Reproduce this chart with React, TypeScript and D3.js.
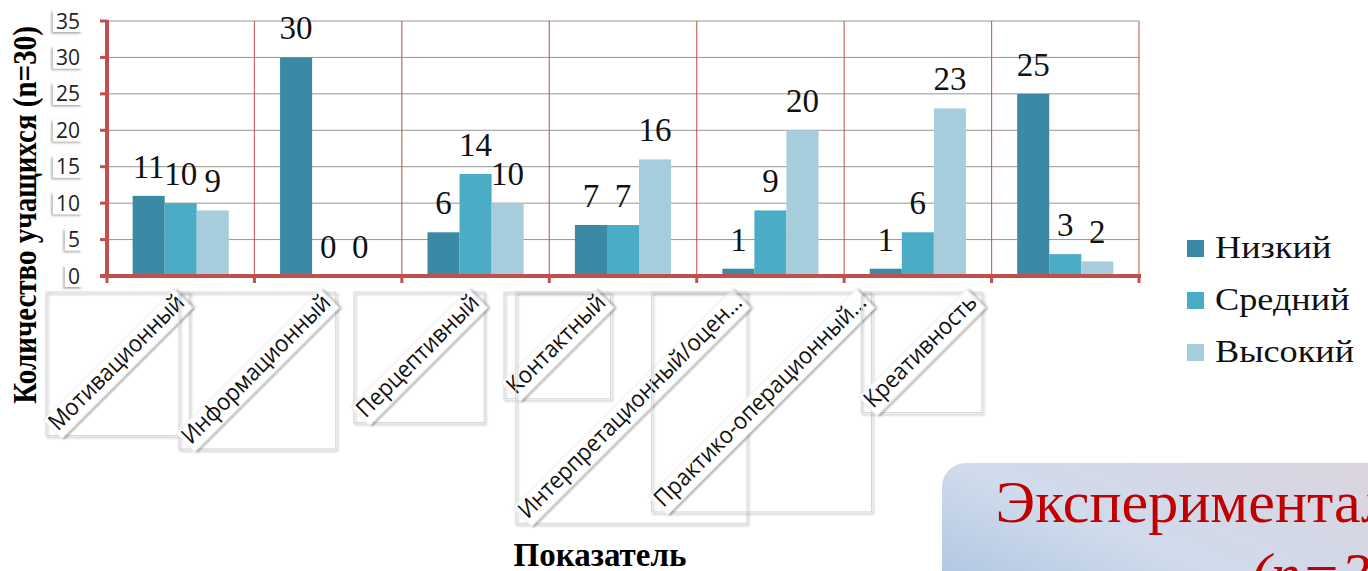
import React, { useEffect, useRef } from 'react';
import * as d3 from 'd3';

// ---------- data ----------
const categories = [
  'Мотивационный',
  'Информационный',
  'Перцептивный',
  'Контактный',
  'Интерпретационный/оцен…',
  'Практико-операционный…',
  'Креативность',
];
const seriesNames = ['Низкий', 'Средний', 'Высокий'];
const lowValues = [11, 30, 6, 7, 1, 1, 25];
const midValues = [10, 0, 14, 7, 9, 6, 3];
const highValues = [9, 0, 10, 16, 20, 23, 2];
const yTicks = [0, 5, 10, 15, 20, 25, 30, 35];
const yTitle = 'Количество учащихся (n=30)';
const xTitle = 'Показатель';
const boxLine1 = 'Экспериментальная группа';
const boxLine2 = '(n=30)';

// ---------- style / layout ----------
const seriesColors = ['#3a8aa5', '#4bacc6', '#a6cddc'];
const labelShiftX = [5, 4, 5, -16, -27, -50, -87];
const axisRed = '#c0504d';
const SERIF = '"Liberation Serif", "Times New Roman", serif';
const SANS = '"Open Sans", "Liberation Sans", sans-serif';

export default function App() {
  const ref = useRef<SVGSVGElement>(null);

  useEffect(() => {
    const svg = d3.select(ref.current);
    svg.selectAll('*').remove();

    const left = 107, right = 1139, top = 21, bottom = 276;

    const defs = svg.append('defs');
    const sh = defs.append('filter').attr('id', 'sh')
      .attr('x', '-10%').attr('y', '-10%').attr('width', '130%').attr('height', '130%');
    sh.append('feDropShadow').attr('dx', 1.5).attr('dy', 2).attr('stdDeviation', 1.2)
      .attr('flood-color', '#000').attr('flood-opacity', 0.35);
    const sh2 = defs.append('filter').attr('id', 'sh2')
      .attr('x', '-30%').attr('y', '-30%').attr('width', '160%').attr('height', '160%');
    sh2.append('feDropShadow').attr('dx', -1.5).attr('dy', 1.5).attr('stdDeviation', 1)
      .attr('flood-color', '#000').attr('flood-opacity', 0.35);
    const grad = defs.append('linearGradient').attr('id', 'boxg')
      .attr('x1', '0').attr('y1', '1').attr('x2', '1').attr('y2', '0');
    grad.append('stop').attr('offset', '0').attr('stop-color', '#95b4d8');
    grad.append('stop').attr('offset', '0.5').attr('stop-color', '#cfdbec');
    grad.append('stop').attr('offset', '1').attr('stop-color', '#ddd3dc');

    const x = d3.scaleBand<string>().domain(categories).range([left, right]).padding(0);
    const x1 = d3.scaleBand<string>().domain(seriesNames).range([0, x.bandwidth()])
      .paddingInner(0).paddingOuter(0.8);
    const y = d3.scaleLinear().domain([0, 35]).range([bottom, top]);
    const values = [lowValues, midValues, highValues];

    // gridlines
    svg.append('g').selectAll('line').data(yTicks.filter(t => t > 0)).join('line')
      .attr('x1', left).attr('x2', right)
      .attr('y1', d => y(d)).attr('y2', d => y(d))
      .attr('stroke', '#9a9494').attr('stroke-width', 1);
    // vertical dividers
    const divs = categories.map(c => x(c)! + x.bandwidth());
    svg.append('g').selectAll('line').data(divs).join('line')
      .attr('x1', d => d).attr('x2', d => d).attr('y1', top).attr('y2', bottom)
      .attr('stroke', axisRed).attr('stroke-width', 1.2).attr('opacity', 0.85);

    // bars
    const g = svg.append('g');
    categories.forEach((c, i) => {
      seriesNames.forEach((s, j) => {
        const v = values[j][i];
        g.append('rect')
          .attr('x', x(c)! + x1(s)!)
          .attr('y', y(v))
          .attr('width', x1.bandwidth())
          .attr('height', y(0) - y(v))
          .attr('fill', seriesColors[j]);
      });
    });

    // axes
    const ax = svg.append('g');
    ax.append('line').attr('x1', left).attr('x2', left).attr('y1', top - 1).attr('y2', bottom + 2)
      .attr('stroke', axisRed).attr('stroke-width', 4);
    ax.selectAll('line.yt').data(yTicks).join('line').attr('class', 'yt')
      .attr('x1', left - 7).attr('x2', left).attr('y1', d => y(d)).attr('y2', d => y(d))
      .attr('stroke', axisRed).attr('stroke-width', 3);
    ax.append('line').attr('x1', left - 7).attr('x2', right + 2).attr('y1', bottom).attr('y2', bottom)
      .attr('stroke', axisRed).attr('stroke-width', 4);
    ax.selectAll('line.xt').data([left, ...divs]).join('line').attr('class', 'xt')
      .attr('x1', d => d).attr('x2', d => d).attr('y1', bottom).attr('y2', bottom + 7)
      .attr('stroke', axisRed).attr('stroke-width', 3);

    // y tick labels in boxes
    yTicks.forEach(t => {
      const tg = svg.append('g');
      const txt = tg.append('text').attr('x', 80).attr('y', y(t)).attr('dy', '0.36em')
        .attr('text-anchor', 'end').attr('font-family', SANS).attr('font-size', 21)
        .attr('fill', '#222').text(String(t));
      const w = (txt.node() as SVGTextElement).getComputedTextLength();
      tg.insert('rect', 'text').attr('x', 80 - w - 3).attr('y', y(t) - 11)
        .attr('width', w + 5).attr('height', 22).attr('fill', '#fff').attr('filter', 'url(#sh2)');
    });

    // data labels
    categories.forEach((c, i) => {
      seriesNames.forEach((s, j) => {
        const v = values[j][i];
        svg.append('text')
          .attr('x', x(c)! + x1(s)! + x1.bandwidth() / 2)
          .attr('y', y(v) - 18)
          .attr('text-anchor', 'middle')
          .attr('font-family', SERIF).attr('font-size', 33).attr('fill', '#111')
          .text(String(v));
      });
    });

    // category labels with boxes
    const lg = svg.append('g');
    const fs = 23.5;
    const sx = 0.93;
    const asc = fs * 0.72, desc = fs * 0.22;
    const c45 = Math.SQRT1_2;
    categories.forEach((c, i) => {
      const ex = x(c)! + x.bandwidth() / 2 + labelShiftX[i];
      const ey = 304;
      const grp = lg.append('g');
      const tr = `translate(${ex},${ey}) rotate(-45) scale(${sx},1)`;
      const t = grp.append('text').attr('font-family', SANS).attr('font-size', fs)
        .attr('text-anchor', 'end').attr('fill', '#111')
        .attr('transform', tr).text(c);
      const L = (t.node() as SVGTextElement).getComputedTextLength() * sx;
      // axis-aligned bbox of rotated text band
      const pts = [[-L, -asc], [-L, desc], [0, -asc], [0, desc]].map(([u, v]) => [
        ex + c45 * u + c45 * v,
        ey - c45 * u + c45 * v,
      ]);
      const xs = pts.map(p => p[0]), ys = pts.map(p => p[1]);
      const bx0 = Math.min(...xs), bx1 = Math.max(...xs), by0 = Math.min(...ys), by1 = Math.max(...ys);
      grp.insert('rect', 'text').attr('x', bx0).attr('y', by0)
        .attr('width', bx1 - bx0).attr('height', by1 - by0)
        .attr('fill', 'none').attr('stroke', '#d6d6d6').attr('stroke-width', 1)
        .attr('filter', 'url(#sh)');
      grp.insert('rect', 'text').attr('x', -L - 2).attr('y', -asc - 2)
        .attr('width', L + 4).attr('height', asc + desc + 4)
        .attr('transform', `translate(${ex},${ey}) rotate(-45)`)
        .attr('fill', '#fff').attr('stroke', '#eeeeee').attr('filter', 'url(#sh)');
    });

    // y title
    svg.append('text')
      .attr('transform', `translate(36,215) scale(1.15,1) rotate(-90)`)
      .attr('text-anchor', 'middle').attr('font-family', SERIF).attr('font-weight', 'bold')
      .attr('font-size', 29).attr('fill', '#000').text(yTitle);

    // x title
    svg.append('text').attr('x', 600).attr('y', 566).attr('text-anchor', 'middle')
      .attr('font-family', SERIF).attr('font-weight', 'bold').attr('font-size', 33)
      .attr('fill', '#000').text(xTitle);

    // legend
    seriesNames.forEach((s, j) => {
      const by = 258 + j * 52;
      svg.append('rect').attr('x', 1187).attr('y', by - 18).attr('width', 17).attr('height', 17)
        .attr('fill', seriesColors[j]);
      svg.append('text').attr('transform', `translate(1215,${by}) scale(1.17,1)`)
        .attr('font-family', SERIF).attr('font-size', 31).attr('fill', '#111').text(s);
    });

    // bottom-right title box
    svg.append('rect').attr('x', 942).attr('y', 463).attr('width', 520).attr('height', 220)
      .attr('rx', 24).attr('fill', 'url(#boxg)');
    svg.append('text').attr('x', 1345).attr('y', 522).attr('text-anchor', 'middle')
      .attr('font-family', SERIF).attr('font-size', 60).attr('fill', '#c00000').text(boxLine1);
    svg.append('text').attr('x', 1336).attr('y', 594).attr('text-anchor', 'middle')
      .attr('font-family', SERIF).attr('font-style', 'italic').attr('font-size', 60)
      .attr('fill', '#c00000').text(boxLine2);
  }, []);

  return (
    <svg
      ref={ref}
      width={1368}
      height={571}
      style={{ position: 'absolute', left: 0, top: 0, background: '#fff', display: 'block' }}
    />
  );
}
